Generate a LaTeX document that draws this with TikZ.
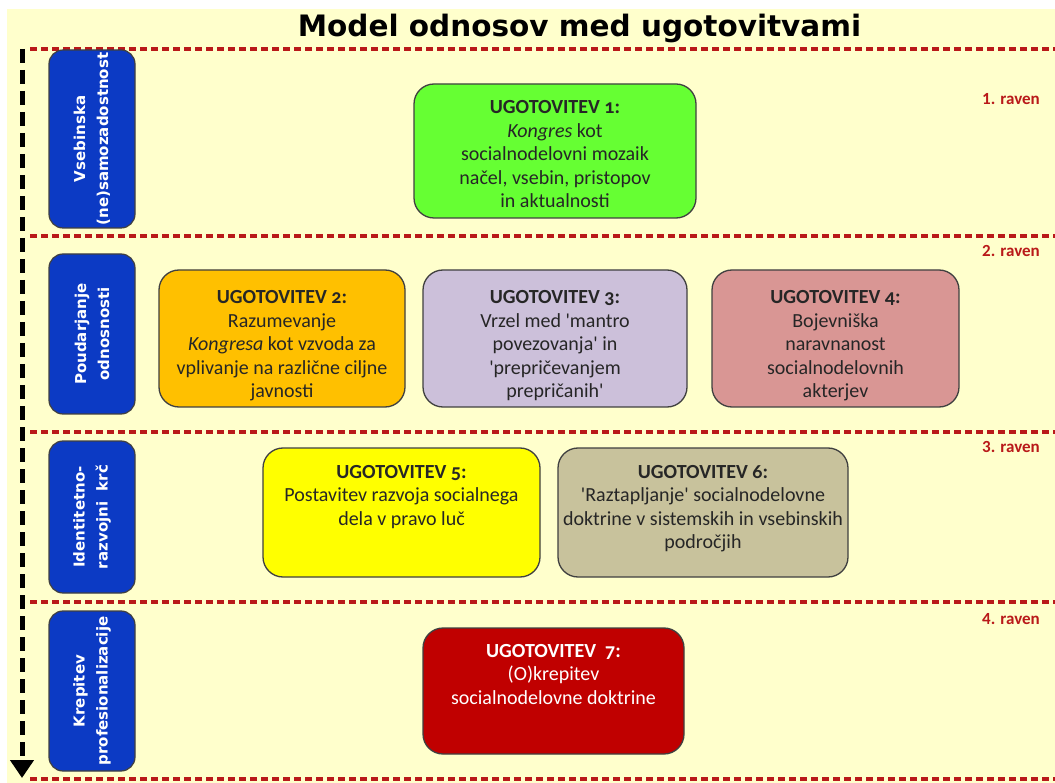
\documentclass[tikz,border=0pt]{standalone}
\usepackage{fontspec}
\setmainfont{Carlito}[Numbers=OldStyle]
\newfontfamily\dejavu{DejaVu Sans}
\newfontfamily\carlitolin{Carlito}
\usetikzlibrary{arrows.meta}
\definecolor{bg}{RGB}{255,255,204}
\definecolor{lvl}{RGB}{185,25,25}
\definecolor{blu}{RGB}{12,58,196}
\definecolor{g1}{RGB}{102,255,51}
\definecolor{o2}{RGB}{255,192,0}
\definecolor{l3}{RGB}{204,192,218}
\definecolor{r4}{RGB}{217,150,148}
\definecolor{y5}{RGB}{255,255,0}
\definecolor{k6}{RGB}{200,194,156}
\definecolor{d7}{RGB}{192,0,0}
\definecolor{txt}{RGB}{38,38,38}
\definecolor{edge}{RGB}{64,64,64}
\tikzset{
  findbox/.style={draw=edge, line width=1.3pt, rounded corners=20pt, inner sep=0pt},
  levelbox/.style={draw=edge, fill=blu, rounded corners=14pt, line width=1.2pt, rotate=90,
     text=white, align=center, inner sep=0pt, font=\dejavu\bfseries\fontsize{15}{23}\selectfont},
  boxtext/.style={font=\fontsize{20}{23.5}\selectfont, text=txt, align=center, inner sep=0pt, anchor=north},
  ravenlbl/.style={font=\carlitolin\bfseries\fontsize{17}{19}\selectfont, text=lvl, anchor=base east, inner sep=0pt},
  sepline/.style={draw=lvl, line width=3.2pt, dash pattern=on 7pt off 4pt},
}
\begin{document}
\begin{tikzpicture}[x=1pt,y=-1pt]
\useasboundingbox (0,0) rectangle (1055,783);
\fill[white] (0,0) rectangle (1055,783);
\fill[bg] (7,9) rectangle (1055,783);
% title
\node[font=\dejavu\bfseries\fontsize{29.5}{32}\selectfont, anchor=base, inner sep=0pt] (title) at (579.5,37) {Model odnosov med ugotovitvami};
% separators
\foreach \i/\y in {0/49,1/236,2/432,3/602,4/779}{
  \coordinate (sa\i) at (30,\y);
  \coordinate (sb\i) at (1055,\y);
  \draw[sepline] (sa\i) -- (sb\i);
}
% vertical arrow
\coordinate (ar0) at (22,49);
\coordinate (ar1) at (22,778);
\draw[line width=5pt, dash pattern=on 14pt off 7pt, -{Triangle[width=23pt,length=18pt]}] (ar0) -- (ar1);
% level boxes
\node[levelbox, minimum width=178pt, minimum height=86pt] (L1) at (92,139) {Vsebinska\\(ne)samozadostnost};
\node[levelbox, minimum width=160pt, minimum height=86pt] (L2) at (92,334) {Poudarjanje\\odnosnosti};
\node[levelbox, minimum width=152pt, minimum height=86pt] (L3) at (92,517) {Identitetno-\\razvojni\ \ krč};
\node[levelbox, minimum width=160pt, minimum height=86pt] (L4) at (92,691) {Krepitev\\profesionalizacije};
% level labels
\node[ravenlbl] (r1) at (1040,105) {1. raven};
\node[ravenlbl] (r2) at (1040,257) {2. raven};
\node[ravenlbl] (r3) at (1040,452) {3. raven};
\node[ravenlbl] (r4) at (1040,624) {4. raven};
% finding boxes
\node[findbox, fill=g1, minimum width=282pt, minimum height=134pt] (B1) at (555,151) {};
\node[findbox, fill=o2, minimum width=246pt, minimum height=137pt] (B2) at (282,338.5) {};
\node[findbox, fill=l3, minimum width=264pt, minimum height=137pt] (B3) at (555,338.5) {};
\node[findbox, fill=r4, minimum width=247pt, minimum height=137pt] (B4) at (835.5,338.5) {};
\node[findbox, fill=y5, minimum width=277pt, minimum height=129pt] (B5) at (401.5,512.5) {};
\node[findbox, fill=k6, minimum width=290pt, minimum height=129pt] (B6) at (703,512.5) {};
\node[findbox, fill=d7, minimum width=261pt, minimum height=126pt] (B7) at (553.5,691) {};
% texts
\node[boxtext] (T1) at (555,100.5) {\textbf{UGOTOVITEV 1:}\\\textit{Kongres} kot\\socialnodelovni mozaik\\načel, vsebin, pristopov\\in aktualnosti};
\node[boxtext] (T2) at (282,290.5) {\textbf{UGOTOVITEV 2:}\\Razumevanje\\\textit{Kongresa} kot vzvoda za\\vplivanje na različne ciljne\\javnosti};
\node[boxtext] (T3) at (555,290.5) {\textbf{UGOTOVITEV 3:}\\Vrzel med \textquotesingle mantro\\povezovanja\textquotesingle{} in\\\textquotesingle prepričevanjem\\prepričanih\textquotesingle};
\node[boxtext] (T4) at (835.5,290.5) {\textbf{UGOTOVITEV 4:}\\Bojevniška\\naravnanost\\socialnodelovnih\\akterjev};
\node[boxtext] (T5) at (401.5,465) {\textbf{UGOTOVITEV 5:}\\Postavitev razvoja socialnega\\dela v pravo luč};
\node[boxtext] (T6) at (703,465) {\textbf{UGOTOVITEV 6:}\\\textquotesingle Raztapljanje\textquotesingle{} socialnodelovne\\doktrine v sistemskih in vsebinskih\\področjih};
\node[boxtext, text=white] (T7) at (553.5,644) {\textbf{UGOTOVITEV\ \ 7:}\\(O)krepitev\\socialnodelovne doktrine};
\end{tikzpicture}
\end{document}
